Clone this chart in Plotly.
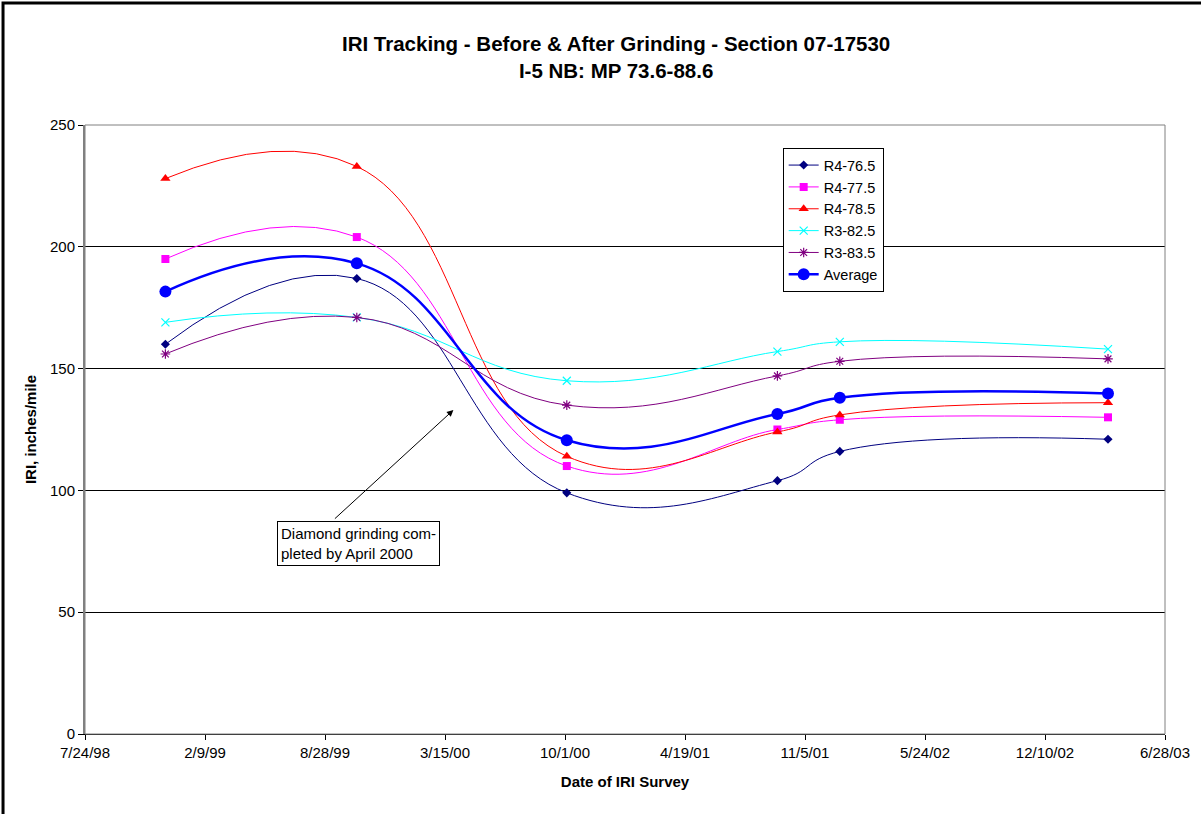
import plotly.graph_objects as go

survey_dates = ["1998-12-05", "1999-10-20", "2000-10-04", "2001-09-20", "2002-01-02", "2003-03-25"]

r4_765 = [160, 187, 99, 104, 116, 121]
r4_775 = [195, 204, 110, 125, 129, 130]
r4_785 = [228, 233, 114, 124, 131, 136]
r3_825 = [169, 171, 145, 157, 161, 158]
r3_835 = [156, 171, 135, 147, 153, 154]
average = [181.6, 193.2, 120.6, 131.4, 138.0, 139.8]

series = [
    ("R4-76.5", r4_765, "#000080", "diamond", 7, 1),
    ("R4-77.5", r4_775, "#FF00FF", "square", 8, 1),
    ("R4-78.5", r4_785, "#FF0000", "triangle-up", 9, 1),
    ("R3-82.5", r3_825, "#00FFFF", "x-thin", 8, 1),
    ("R3-83.5", r3_835, "#800080", "asterisk", 8, 1),
    ("Average", average, "#0000FF", "circle", 12, 2.5),
]

FONT = "Arial, Liberation Sans, sans-serif"

fig = go.Figure()
for name, vals, color, symbol, size, width in series:
    marker = dict(symbol=symbol, size=size, color=color)
    if symbol in ("x-thin", "asterisk"):
        marker["line"] = dict(color=color, width=1.2)
    fig.add_trace(
        go.Scatter(
            x=survey_dates,
            y=vals,
            mode="lines+markers",
            name=name,
            line=dict(color=color, width=width, shape="spline", smoothing=1.3),
            marker=marker,
        )
    )

day_ms = 86400000
fig.update_xaxes(
    type="date",
    range=["1998-07-24", "2003-06-28"],
    tick0="1998-07-24",
    dtick=200 * day_ms,
    tickformat="%-m/%-d/%y",
    showgrid=False,
    showline=True,
    linecolor="black",
    linewidth=1,
    ticks="outside",
    ticklen=5,
    tickcolor="black",
    tickfont=dict(family=FONT, size=15, color="black"),
    title=dict(text="<b>Date of IRI Survey</b>", font=dict(family=FONT, size=15, color="black"), standoff=16),
)
fig.update_yaxes(
    range=[0, 250],
    dtick=50,
    showgrid=True,
    gridcolor="black",
    gridwidth=1,
    zeroline=False,
    showline=True,
    linecolor="#808080",
    linewidth=2,
    ticks="outside",
    ticklen=5,
    tickcolor="black",
    tickfont=dict(family=FONT, size=15, color="black"),
    title=dict(text="<b>IRI, inches/mile</b>", font=dict(family=FONT, size=15, color="black"), standoff=10),
)

# gray border on the top and right of the plot area
fig.add_shape(type="rect", xref="paper", yref="paper", x0=0, x1=1, y0=0, y1=1,
              line=dict(color="#808080", width=1), layer="above")
# black frame of the whole chart (cut off at right and bottom)
fig.add_shape(type="rect", xref="paper", yref="paper", x0=-0.0759, x1=1.04, y0=-0.15, y1=1.2005,
              line=dict(color="black", width=3))

fig.add_annotation(
    x="2000-03-29", y=133, ax=-120, ay=110, text="",
    showarrow=True, arrowhead=2, arrowsize=1.3, arrowwidth=1, arrowcolor="black",
)
fig.add_annotation(
    x="1999-10-23", y=78.4, text="Diamond grinding com-<br>pleted by April 2000",
    showarrow=False, align="left", bordercolor="black", borderwidth=1, bgcolor="white",
    borderpad=3, font=dict(family=FONT, size=15, color="black"),
)

fig.update_layout(
    width=1201,
    height=814,
    margin=dict(l=85, r=36, t=125, b=80),
    paper_bgcolor="white",
    plot_bgcolor="white",
    title=dict(
        text="<b>IRI Tracking - Before & After Grinding - Section 07-17530<br>I-5 NB: MP 73.6-88.6</b>",
        x=0.513, xanchor="center", y=0.937, yanchor="middle", yref="container",
        font=dict(family=FONT, size=20.5, color="black"),
    ),
    legend=dict(
        x=0.646, y=0.962, xanchor="left", yanchor="top",
        bordercolor="black", borderwidth=1, bgcolor="white",
        font=dict(family=FONT, size=14.5, color="black"),
        itemwidth=30, tracegroupgap=0,
    ),
    showlegend=True,
)

fig.write_html(
    "out.html",
    config={"displayModeBar": False},
    post_script="document.body.style.margin='0';",
)
